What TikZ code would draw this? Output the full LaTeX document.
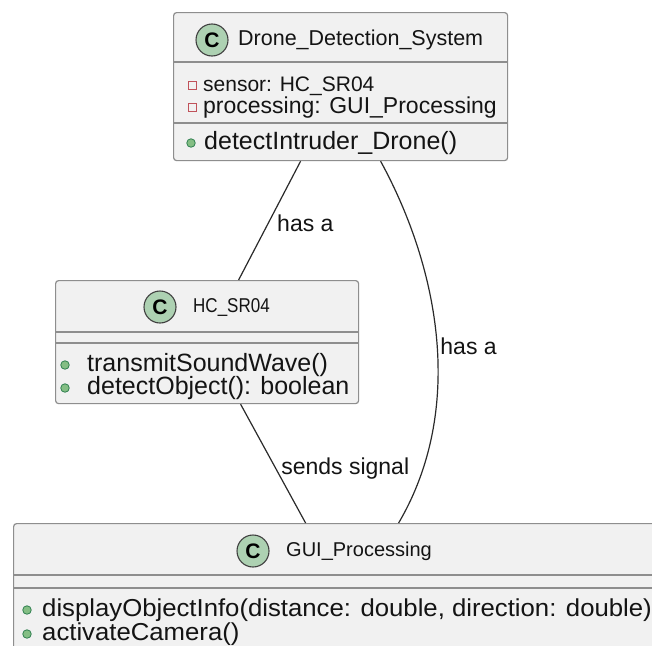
\documentclass[tikz,border=0pt]{standalone}
\usepackage{graphicx}
\usepackage{fontspec}
\setmainfont{Liberation Sans}
\definecolor{boxfill}{HTML}{F1F1F1}
\definecolor{boxline}{HTML}{8E8E8E}
\definecolor{circfill}{HTML}{ADD1B2}
\definecolor{privred}{HTML}{C0525A}
\definecolor{pubfill}{HTML}{84BE84}
\definecolor{publine}{HTML}{2F8050}
\definecolor{linkcol}{HTML}{2A2A2A}
\definecolor{txtcol}{HTML}{141414}
\tikzset{
  classbox/.style={draw=boxline, fill=boxfill, line width=1.2pt, rounded corners=3pt, inner sep=0pt, anchor=north west},
  sepline/.style={draw=boxline, line width=1.2pt},
  cicon/.style={circle, draw=black!75, line width=1.1pt, fill=circfill, minimum size=32pt, inner sep=0pt, text=black,
    font=\fontsize{21}{21}\selectfont\bfseries},
  privicon/.style={draw=privred, line width=1pt, minimum size=8pt, inner sep=0pt},
  pubicon/.style={circle, draw=publine, fill=pubfill, line width=0.8pt, minimum size=8.5pt, inner sep=0pt},
  ttl/.style={anchor=west, inner sep=0pt, text=txtcol, text height=15pt, text depth=4pt, font=\fontsize{20}{22}\selectfont},
  ttlA/.style={ttl, text height=16pt, text depth=4.5pt, font=\fontsize{21.5}{24}\selectfont},
  attr/.style={anchor=west, inner sep=0pt, text=txtcol, text height=17pt, text depth=4.8pt, font=\fontsize{23}{25}\selectfont},
  meth/.style={anchor=west, inner sep=0pt, text=txtcol, text height=18.5pt, text depth=5pt, font=\fontsize{25}{27}\selectfont},
  methG/.style={anchor=west, inner sep=0pt, text=txtcol, text height=17.5pt, text depth=4.8pt, font=\fontsize{24.5}{26}\selectfont},
  lbl/.style={anchor=west, inner sep=0pt, text=txtcol, text height=17pt, text depth=4.8pt, font=\fontsize{23}{25}\selectfont},
  link/.style={draw=linkcol, line width=1.2pt}
}
\begin{document}
\begin{tikzpicture}[x=1pt,y=-1pt]
\useasboundingbox (0,0) rectangle (652,645);
\clip (0,0) rectangle (652,645);
\fill[white] (0,0) rectangle (652,645);

% ---- Drone_Detection_System
\node[classbox, minimum width=334pt, minimum height=148pt] (dds) at (173,12) {};
\draw[sepline] (dds.west |- 0,62) -- (dds.east |- 0,62);
\draw[sepline] (dds.west |- 0,123) -- (dds.east |- 0,123);
\node[cicon] (ddsC) at (212,40) {C};
\node[ttlA] (ddsT) at (238,40) {Drone\_Detection\_System};
\node[privicon] (ddsP1) at (192,85) {};
\node[attr, font=\fontsize{21}{24}\selectfont] (ddsA1) at (203,85) {sensor: HC\_SR04};
\node[privicon] (ddsP2) at (192,107) {};
\node[attr] (ddsA2) at (203,107) {processing: GUI\_Processing};
\node[pubicon] (ddsM1i) at (191,143) {};
\node[meth] (ddsM1) at (204,143) {detectIntruder\_Drone()};

% ---- HC_SR04
\node[classbox, minimum width=303pt, minimum height=123pt] (hc) at (55,280) {};
\draw[sepline] (hc.west |- 0,332) -- (hc.east |- 0,332);
\draw[sepline] (hc.west |- 0,343) -- (hc.east |- 0,343);
\node[cicon] (hcC) at (160,307) {C};
\node[ttl] (hcT) at (193,307) {\scalebox{0.85}[1]{HC\_SR04}};
\node[pubicon] (hcM1i) at (65,365) {};
\node[meth] (hcM1) at (87,365) {transmitSoundWave()};
\node[pubicon] (hcM2i) at (65,388) {};
\node[meth] (hcM2) at (87,388) {detectObject(): boolean};

% ---- GUI_Processing
\node[classbox, minimum width=651pt, minimum height=130pt] (gui) at (13,523) {};
\draw[sepline] (gui.west |- 0,575) -- (gui.east |- 0,575);
\draw[sepline] (gui.west |- 0,588) -- (gui.east |- 0,588);
\node[cicon] (guiC) at (253,551) {C};
\node[ttl] (guiT) at (286,551) {GUI\_Processing};
\node[pubicon] (guiM1i) at (27,610) {};
\node[methG] (guiM1) at (42,610) {\scalebox{1.05}[1]{displayObjectInfo(distance: double, direction: double)}};
\node[pubicon] (guiM2i) at (27,634) {};
\node[methG] (guiM2) at (42,634) {\scalebox{1.05}[1]{activateCamera()}};

% ---- connectors
\draw[link] ([xshift=-40pt]dds.south) -- ([xshift=31.5pt]hc.north)
  node[pos=0.54, lbl, xshift=9.5pt] (lab1) {has a};
\draw[link] ([xshift=40pt]dds.south) .. controls (440,270) and (465,410) .. ([xshift=59.5pt]gui.north)
  node[pos=0.52, lbl, xshift=2.5pt] (lab2) {has a};
\draw[link] ([xshift=33.5pt]hc.south) -- ([xshift=-33.5pt]gui.north)
  node[pos=0.54, lbl, xshift=5pt] (lab3) {sends signal};
\end{tikzpicture}
\end{document}
